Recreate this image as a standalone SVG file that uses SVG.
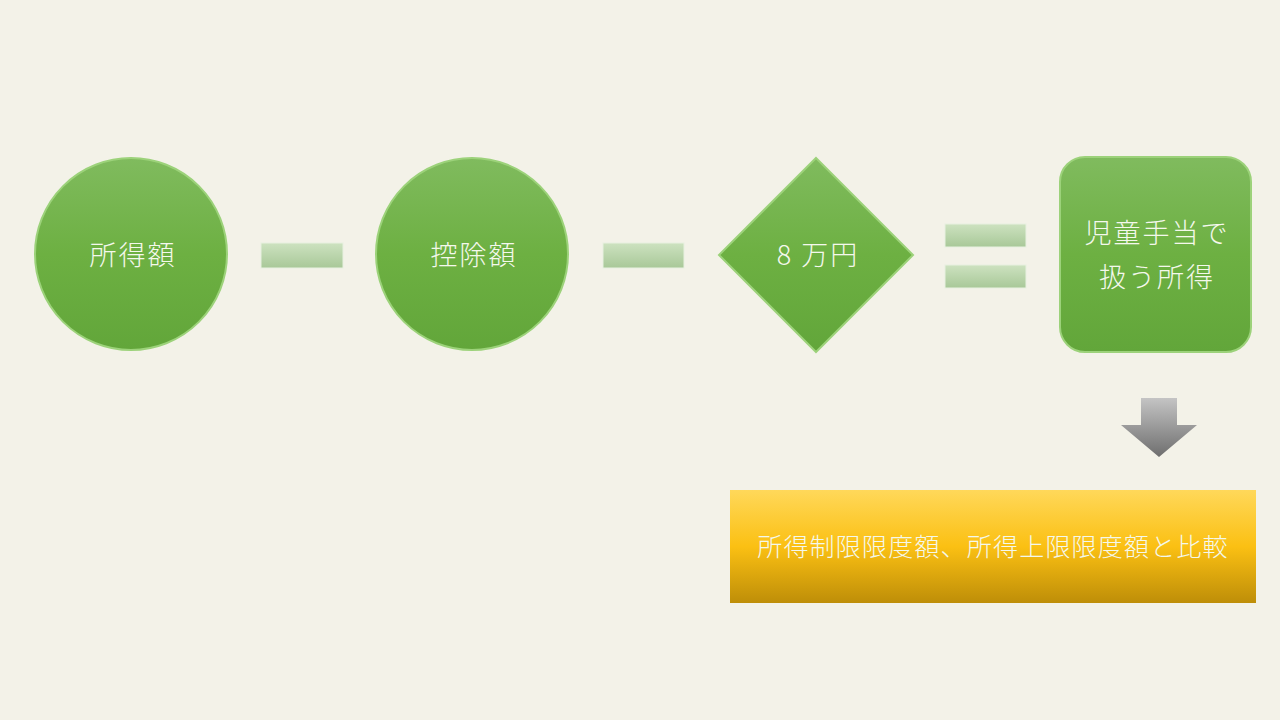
<svg xmlns="http://www.w3.org/2000/svg" width="1280" height="720" viewBox="0 0 1280 720">
<defs>
<linearGradient id="g" x1="0" y1="0" x2="0" y2="1">
<stop offset="0" stop-color="#80BB5E"/><stop offset="0.5" stop-color="#6DB042"/><stop offset="1" stop-color="#62A63A"/>
</linearGradient>
<linearGradient id="bar" x1="0" y1="0" x2="0" y2="1">
<stop offset="0" stop-color="#CDE2C0"/><stop offset="1" stop-color="#A8C898"/>
</linearGradient>
<linearGradient id="arr" x1="0" y1="0" x2="0" y2="1">
<stop offset="0" stop-color="#C4C4C4"/><stop offset="1" stop-color="#6E6E6E"/>
</linearGradient>
<linearGradient id="gold" x1="0" y1="0" x2="0" y2="1">
<stop offset="0" stop-color="#FFD85A"/><stop offset="0.5" stop-color="#FBC013"/><stop offset="1" stop-color="#BE8E08"/>
</linearGradient>
</defs>
<style>
.node{fill:url(#g);stroke:#9CD27A;stroke-width:2}
.bar{fill:url(#bar);stroke:#E8F0E0;stroke-width:1}
.t{font-family:"Noto Sans CJK JP","Noto Sans",sans-serif;font-size:27px;font-weight:300;letter-spacing:2px;fill:#F4F8EC;text-anchor:middle;dominant-baseline:central}
</style>
<rect width="1280" height="720" fill="#F3F2E8"/>
<g id="n1"><circle class="node" cx="131" cy="254" r="96"/><text class="t" x="133" y="253">所得額</text></g>
<g id="n2"><circle class="node" cx="472" cy="254" r="96"/><text class="t" x="474" y="253">控除額</text></g>
<g id="n3"><polygon class="node" points="816,158 913,255 816,352 719,255"/><text class="t" x="818" y="253">8 万円</text></g>
<g id="n4"><rect class="node" x="1060" y="157" width="191" height="195" rx="25"/><text class="t" x="1157" y="231">児童手当で</text><text class="t" x="1157" y="275">扱う所得</text></g>
<g id="n5"><rect x="730" y="490" width="526" height="113" fill="url(#gold)"/><text class="t" x="993" y="545" style="font-size:25px;letter-spacing:1.2px">所得制限限度額、所得上限限度額と比較</text></g>
<g id="connectors">
<rect class="bar" x="261" y="243" width="82" height="25"/>
<rect class="bar" x="603" y="243" width="81" height="25"/>
<rect class="bar" x="945" y="224" width="81" height="23"/>
<rect class="bar" x="945" y="265" width="81" height="23"/>
<polygon points="1141,398 1177,398 1177,425 1197,425 1159,457 1121,425 1141,425" fill="url(#arr)"/>
</g>
</svg>
